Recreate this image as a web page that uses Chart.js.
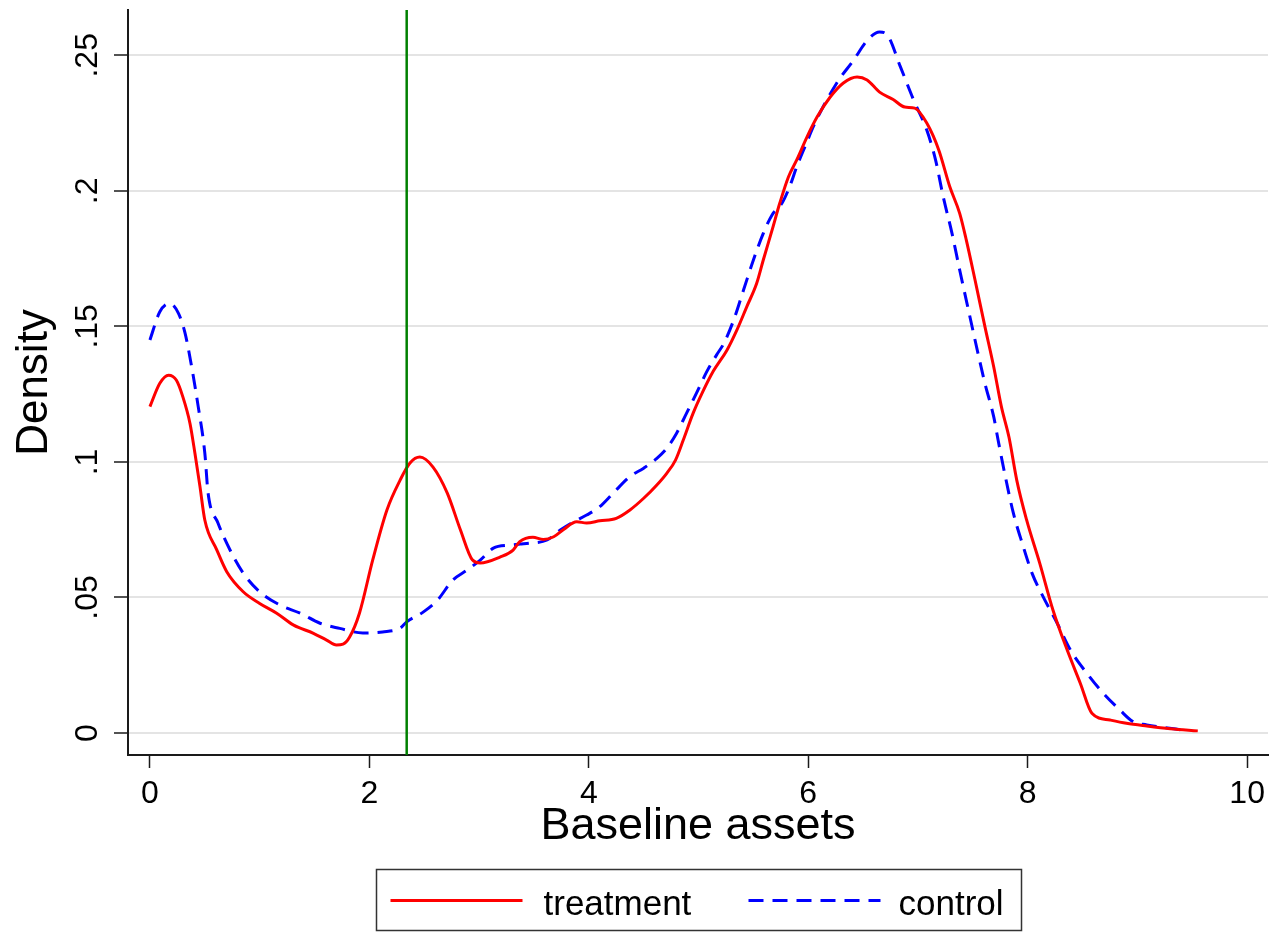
<!DOCTYPE html>
<html>
<head>
<meta charset="utf-8">
<script src="https://cdn.jsdelivr.net/npm/chart.js@4.4.0/dist/chart.umd.min.js"></script>
<style>
  html, body { margin: 0; padding: 0; background: #fff; }
</style>
</head>
<body>
<canvas id="density" width="1270" height="932"></canvas>
<script>
// kernel density of baseline assets
const treatX = [0, 0.09, 0.17, 0.24, 0.30, 0.365, 0.41, 0.456, 0.50, 0.61, 0.70, 0.85, 1.0, 1.155, 1.31, 1.49, 1.61, 1.70, 1.76, 1.82, 1.91, 2.03, 2.16, 2.28, 2.37, 2.46, 2.58, 2.71, 2.83, 2.94, 3.01, 3.19, 3.31, 3.37, 3.49, 3.585, 3.68, 3.77, 3.89, 3.98, 4.10, 4.25, 4.375, 4.5, 4.62, 4.71, 4.79, 4.86, 4.95, 5.04, 5.135, 5.26, 5.35, 5.44, 5.53, 5.59, 5.67, 5.74, 5.82, 5.895, 5.99, 6.08, 6.2, 6.32, 6.445, 6.536, 6.65, 6.77, 6.88, 6.97, 7.08, 7.19, 7.29, 7.38, 7.44, 7.52, 7.61, 7.69, 7.76, 7.83, 7.90, 7.99, 8.11, 8.23, 8.36, 8.48, 8.585, 8.75, 8.90, 9.085, 9.3, 9.55];
const treatY = [0.1204, 0.129, 0.132, 0.1302, 0.124, 0.1142, 0.1032, 0.0909, 0.0786, 0.0675, 0.0595, 0.0521, 0.0478, 0.0442, 0.0398, 0.0368, 0.0343, 0.0325, 0.0328, 0.0354, 0.0443, 0.0638, 0.0823, 0.0933, 0.0996, 0.1018, 0.0981, 0.0885, 0.0749, 0.0638, 0.0627, 0.0649, 0.0675, 0.0706, 0.0722, 0.0714, 0.0724, 0.0751, 0.0779, 0.0775, 0.0783, 0.0792, 0.0823, 0.0866, 0.0915, 0.0958, 0.1007, 0.108, 0.1179, 0.126, 0.1335, 0.1413, 0.1487, 0.1573, 0.1659, 0.1745, 0.1855, 0.1954, 0.2052, 0.2114, 0.22, 0.2272, 0.2346, 0.2398, 0.242, 0.2409, 0.2364, 0.2338, 0.2309, 0.2305, 0.225, 0.215, 0.2015, 0.1917, 0.1819, 0.1671, 0.1499, 0.1351, 0.1204, 0.109, 0.0933, 0.0786, 0.0626, 0.0454, 0.0306, 0.0183, 0.0073, 0.0048, 0.0036, 0.0026, 0.0016, 0.0008];

const ctrlX = [0, 0.09, 0.18, 0.26, 0.32, 0.38, 0.44, 0.50, 0.53, 0.62, 0.73, 0.85, 1.0, 1.185, 1.37, 1.55, 1.73, 1.94, 2.12, 2.28, 2.34, 2.49, 2.62, 2.76, 2.89, 3.01, 3.13, 3.28, 3.37, 3.46, 3.62, 3.74, 3.86, 3.98, 4.10, 4.22, 4.375, 4.5, 4.62, 4.71, 4.80, 4.89, 4.98, 5.075, 5.165, 5.23, 5.32, 5.41, 5.50, 5.59, 5.67, 5.76, 5.83, 5.895, 5.97, 6.06, 6.26, 6.41, 6.54, 6.65, 6.72, 6.84, 6.96, 7.08, 7.16, 7.23, 7.31, 7.38, 7.46, 7.54, 7.61, 7.69, 7.73, 7.79, 7.87, 7.95, 8.04, 8.14, 8.27, 8.39, 8.54, 8.69, 8.84, 8.96, 9.085, 9.25, 9.4];
const ctrlY = [0.145, 0.1554, 0.1585, 0.1548, 0.1475, 0.1351, 0.1204, 0.1033, 0.0885, 0.0775, 0.0675, 0.059, 0.0521, 0.0472, 0.0442, 0.0405, 0.0386, 0.0369, 0.0373, 0.0387, 0.041, 0.0446, 0.049, 0.0564, 0.0601, 0.0638, 0.0682, 0.0693, 0.0697, 0.070, 0.0712, 0.0749, 0.0779, 0.0804, 0.0835, 0.0884, 0.0946, 0.0977, 0.1013, 0.105, 0.1106, 0.1179, 0.1253, 0.1333, 0.1395, 0.1437, 0.1523, 0.1634, 0.1745, 0.1843, 0.1911, 0.1954, 0.2015, 0.2089, 0.2163, 0.2249, 0.2398, 0.248, 0.2556, 0.2586, 0.2575, 0.2457, 0.2335, 0.2224, 0.2114, 0.1978, 0.1843, 0.1708, 0.156, 0.1413, 0.129, 0.1167, 0.1081, 0.0958, 0.081, 0.07, 0.0589, 0.0503, 0.0404, 0.0306, 0.022, 0.0146, 0.0085, 0.0042, 0.003, 0.002, 0.0012];

const cutoffX = 2.34;
const seriesNames = ['treatment', 'control'];
const xTicks = [0, 2, 4, 6, 8, 10];
const yTicks = [0, 0.05, 0.1, 0.15, 0.2, 0.25];
const yTickLabels = ['0', '.05', '.1', '.15', '.2', '.25'];
const xRange = [-0.2, 10.19];
const yRange = [-0.0081, 0.2667];

const FONT = '"Liberation Sans", Arial, Helvetica, sans-serif';
const DASH = [15, 9];

const toPoints = (xs, ys) => xs.map((x, i) => ({ x: x, y: ys[i] }));

// stata-style boxed legend under the x title
const legendBox = {
  id: 'legendBox',
  afterDraw(chart) {
    const ctx = chart.ctx;
    const cx = (chart.chartArea.left + chart.chartArea.right) / 2;
    const w = 645, h = 61;
    const left = Math.round(cx - w / 2) + 0.5;
    const top = 869.5;
    ctx.save();
    ctx.strokeStyle = '#333';
    ctx.lineWidth = 1.5;
    ctx.strokeRect(left, top, w, h);

    const items = [
      { text: seriesNames[0], color: '#ff0000', dash: [], x0: 14, tx: 167 },
      { text: seriesNames[1], color: '#0000ff', dash: DASH, x0: 372, tx: 522 }
    ];
    ctx.font = '35px ' + FONT;
    ctx.textBaseline = 'alphabetic';
    ctx.fillStyle = '#000';
    items.forEach(it => {
      ctx.beginPath();
      ctx.setLineDash(it.dash);
      ctx.strokeStyle = it.color;
      ctx.lineWidth = 3;
      ctx.moveTo(left + it.x0, top + 31);
      ctx.lineTo(left + it.x0 + 132, top + 31);
      ctx.stroke();
      ctx.setLineDash([]);
      ctx.fillText(it.text, left + it.tx, top + 45);
    });
    ctx.restore();
  }
};

new Chart(document.getElementById('density'), {
  type: 'line',
  data: {
    datasets: [
      {
        label: 'cutoff',
        data: [{ x: cutoffX, y: yRange[0] }, { x: cutoffX, y: yRange[1] }],
        borderColor: '#008000',
        borderWidth: 2.5,
        pointRadius: 0,
        order: 0
      },
      {
        label: seriesNames[0],
        data: toPoints(treatX, treatY),
        borderColor: '#ff0000',
        backgroundColor: 'transparent',
        borderWidth: 3,
        pointRadius: 0,
        cubicInterpolationMode: 'monotone',
        order: 1
      },
      {
        label: seriesNames[1],
        data: toPoints(ctrlX, ctrlY),
        borderColor: '#0000ff',
        backgroundColor: 'transparent',
        borderWidth: 3,
        borderDash: DASH,
        pointRadius: 0,
        cubicInterpolationMode: 'monotone',
        order: 2
      }
    ]
  },
  options: {
    responsive: false,
    animation: false,
    devicePixelRatio: 1,
    layout: { padding: { top: 10, right: 2, left: 0, bottom: 72 } },
    scales: {
      x: {
        type: 'linear',
        min: xRange[0],
        max: xRange[1],
        afterBuildTicks: (scale) => { scale.ticks = xTicks.map(v => ({ value: v })); },
        afterFit: (scale) => {
          scale.height = 105;
          scale.paddingLeft = 0;
          scale.paddingRight = 0;
        },
        ticks: {
          font: { size: 32, family: FONT },
          color: '#000',
          padding: 7,
          maxRotation: 0,
          callback: (v) => String(v)
        },
        grid: {
          drawOnChartArea: false,
          drawTicks: true,
          tickLength: 13,
          tickColor: '#1a1a1a',
          tickWidth: 1.5
        },
        border: { color: '#1a1a1a', width: 2 },
        title: {
          display: true,
          text: 'Baseline assets',
          font: { size: 45, family: FONT },
          color: '#000',
          padding: { top: 0, bottom: 6 }
        }
      },
      y: {
        min: yRange[0],
        max: yRange[1],
        afterBuildTicks: (scale) => { scale.ticks = yTicks.map(v => ({ value: v })); },
        afterFit: (scale) => {
          scale.width = 128;
          scale.paddingTop = 0;
          scale.paddingBottom = 0;
        },
        ticks: {
          font: { size: 32, family: FONT },
          color: '#000',
          padding: 4,
          minRotation: 90,
          maxRotation: 90,
          crossAlign: 'center',
          callback: (v) => {
            const i = yTicks.findIndex(t => Math.abs(t - v) < 1e-9);
            return i >= 0 ? yTickLabels[i] : '';
          }
        },
        grid: {
          color: '#e4e4e4',
          lineWidth: 2,
          drawTicks: true,
          tickLength: 14,
          tickColor: '#1a1a1a',
          tickWidth: 1.5
        },
        border: { color: '#1a1a1a', width: 2 },
        title: {
          display: true,
          text: 'Density',
          font: { size: 44, family: FONT },
          color: '#000',
          padding: { top: 8, bottom: 0 }
        }
      }
    },
    plugins: {
      legend: { display: false },
      tooltip: { enabled: false }
    }
  },
  plugins: [legendBox]
});
</script>
</body>
</html>
